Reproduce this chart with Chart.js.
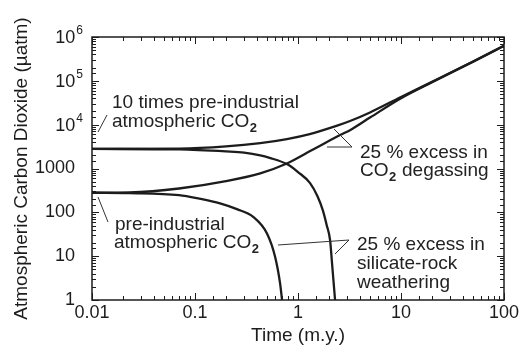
<!DOCTYPE html>
<html>
<head>
<meta charset="utf-8">
<script src="https://cdn.jsdelivr.net/npm/chart.js@4.4.1/dist/chart.umd.min.js"></script>
<style>
  html, body { margin: 0; padding: 0; background: #fff; }
  #wrap { width: 521px; height: 346px; }
</style>
</head>
<body>
<div id="wrap"><canvas id="co2Chart" width="521" height="346"></canvas></div>
<script>
// time in m.y., CO2 in uatm
var tenTimesDegassingTime = [0.01, 0.07, 0.2, 0.43, 0.78, 1.3, 2.4, 3.2, 5, 10, 20, 50, 100];
var tenTimesDegassingCO2 = [2800, 2850, 3200, 3800, 4700, 6100, 9500, 12100, 19000, 42700, 94600, 274000, 630000];

var preIndDegassingTime = [0.01, 0.023, 0.07, 0.2, 0.43, 0.78, 1.37, 2.56, 3.2, 5, 10, 20, 50, 100];
var preIndDegassingCO2 = [280, 285, 350, 515, 775, 1300, 2630, 5800, 7500, 14500, 40000, 93000, 272000, 630000];

var tenTimesWeatheringTime = [0.01, 0.07, 0.2, 0.3, 0.43, 0.53, 0.78, 1.0, 1.31, 1.55, 1.74, 1.9, 2.05, 2.14, 2.29];
var tenTimesWeatheringCO2 = [2800, 2720, 2450, 2300, 2000, 1750, 1260, 830, 465, 230, 112, 51, 23, 6.9, 1];

var preIndWeatheringTime = [0.01, 0.023, 0.07, 0.11, 0.175, 0.255, 0.37, 0.5, 0.6, 0.67, 0.7];
var preIndWeatheringCO2 = [280, 275, 247, 205, 160, 118, 78, 33, 9.6, 2.4, 1];

var xTickValues = [0.01, 0.1, 1, 10, 100];
var xTickLabels = ['0.01', '0.1', '1', '10', '100'];
var yTickValues = [1, 10, 100, 1000, 1e4, 1e5, 1e6];
var yTickLabels = ['1', '10', '100', '1000', '10^4', '10^5', '10^6'];

var FONT = '"Liberation Sans", Arial, Helvetica, sans-serif';
var INK = '#1c1c1c';

function tickIndex(values, v) {
    for (var i = 0; i < values.length; i++) {
        if (Math.abs(Math.log10(values[i]) - Math.log10(v)) < 1e-6) return i;
    }
    return -1;
}

function isDecade(v) {
    var l = Math.log10(v);
    return Math.abs(l - Math.round(l)) < 1e-6;
}

function series(label, times, values) {
    return {
        label: label,
        data: times.map(function (t, i) { return { x: t, y: values[i] }; }),
        borderColor: INK,
        borderWidth: 2.3,
        pointRadius: 0,
        cubicInterpolationMode: 'monotone',
        fill: false
    };
}

// text with "_2" drawn as a subscript 2
function drawText(ctx, x, y, text) {
    var parts = text.split('_2');
    ctx.textAlign = 'left';
    ctx.textBaseline = 'alphabetic';
    parts.forEach(function (part, i) {
        ctx.font = '19px ' + FONT;
        ctx.fillText(part, x, y);
        x += ctx.measureText(part).width;
        if (i < parts.length - 1) {
            ctx.font = 'bold 13px ' + FONT;
            ctx.fillText('2', x + 0.5, y + 5);
            x += ctx.measureText('2').width + 1;
        }
    });
}

var notes = [
    { x: 112, y: 108, text: '10 times pre-industrial' },
    { x: 112, y: 127, text: 'atmospheric CO_2' },
    { x: 115, y: 230, text: 'pre-industrial' },
    { x: 114, y: 248, text: 'atmospheric CO_2' },
    { x: 360, y: 158, text: '25 % excess in' },
    { x: 360, y: 176, text: 'CO_2 degassing' },
    { x: 357, y: 250, text: '25 % excess in' },
    { x: 357, y: 269, text: 'silicate-rock' },
    { x: 357, y: 288, text: 'weathering' }
];

var leaders = [
    [[98, 132], [107, 115]],
    [[98, 197], [108, 222]],
    [[327, 147], [352, 147], [334, 129]],
    [[278, 245], [349, 240], [335, 254]]
];

var framePlugin = {
    id: 'frame',
    afterDraw: function (chart) {
        var ctx = chart.ctx;
        var area = chart.chartArea;
        var xs = chart.scales.x;
        var ys = chart.scales.y;
        ctx.save();
        ctx.strokeStyle = INK;
        ctx.lineWidth = 1.5;
        ctx.strokeRect(area.left, area.top, area.right - area.left, area.bottom - area.top);

        ctx.lineWidth = 1;
        ctx.beginPath();
        xs.ticks.forEach(function (t) {
            var px = Math.round(xs.getPixelForValue(t.value)) + 0.5;
            var len = isDecade(t.value) ? 7 : 4;
            ctx.moveTo(px, area.bottom); ctx.lineTo(px, area.bottom - len);
            ctx.moveTo(px, area.top); ctx.lineTo(px, area.top + len);
        });
        ys.ticks.forEach(function (t) {
            var py = Math.round(ys.getPixelForValue(t.value)) + 0.5;
            var len = isDecade(t.value) ? 7 : 4;
            ctx.moveTo(area.left, py); ctx.lineTo(area.left + len, py);
            ctx.moveTo(area.right, py); ctx.lineTo(area.right - len, py);
        });
        ctx.stroke();

        // powers of ten on the y axis
        ctx.fillStyle = INK;
        ctx.textAlign = 'right';
        ctx.textBaseline = 'alphabetic';
        yTickValues.forEach(function (v, i) {
            var label = yTickLabels[i];
            if (label.indexOf('^') < 0) return;
            var bits = label.split('^');
            var py = ys.getPixelForValue(v);
            var right = area.left - 9;
            ctx.font = '12px ' + FONT;
            var expW = ctx.measureText(bits[1]).width;
            ctx.fillText(bits[1], right, py - 3);
            ctx.font = '18px ' + FONT;
            ctx.fillText(bits[0], right - expW - 1, py + 6);
        });

        ctx.strokeStyle = '#333';
        ctx.lineWidth = 1;
        leaders.forEach(function (pts) {
            ctx.beginPath();
            pts.forEach(function (p, i) {
                if (i === 0) ctx.moveTo(p[0], p[1]); else ctx.lineTo(p[0], p[1]);
            });
            ctx.stroke();
        });

        ctx.fillStyle = '#222';
        notes.forEach(function (n) { drawText(ctx, n.x, n.y, n.text); });
        ctx.restore();
    }
};

new Chart(document.getElementById('co2Chart').getContext('2d'), {
    type: 'line',
    data: {
        datasets: [
            series('10x degassing', tenTimesDegassingTime, tenTimesDegassingCO2),
            series('pre-industrial degassing', preIndDegassingTime, preIndDegassingCO2),
            series('10x weathering', tenTimesWeatheringTime, tenTimesWeatheringCO2),
            series('pre-industrial weathering', preIndWeatheringTime, preIndWeatheringCO2)
        ]
    },
    options: {
        responsive: false,
        animation: false,
        devicePixelRatio: 1,
        layout: { padding: { top: 37, right: 17, left: 0, bottom: 0 } },
        plugins: {
            legend: { display: false },
            tooltip: { enabled: false }
        },
        scales: {
            x: {
                type: 'logarithmic',
                position: 'bottom',
                min: 0.01,
                max: 100,
                grid: { display: false },
                border: { display: false },
                ticks: {
                    autoSkip: false,
                    maxRotation: 0,
                    minRotation: 0,
                    padding: -4,
                    color: INK,
                    font: { family: FONT, size: 18, lineHeight: 1 },
                    callback: function (value) {
                        var i = tickIndex(xTickValues, value);
                        return i < 0 ? '' : xTickLabels[i];
                    }
                },
                title: {
                    display: true,
                    text: 'Time (m.y.)',
                    color: INK,
                    font: { family: FONT, size: 19, lineHeight: 1 },
                    padding: { top: 0, bottom: 1 }
                },
                afterFit: function (scale) { scale.height = 46; }
            },
            y: {
                type: 'logarithmic',
                min: 1,
                max: 1e6,
                grid: { display: false },
                border: { display: false },
                ticks: {
                    autoSkip: false,
                    padding: 9,
                    color: INK,
                    font: { family: FONT, size: 18, lineHeight: 1 },
                    callback: function (value) {
                        var i = tickIndex(yTickValues, value);
                        if (i < 0 || yTickLabels[i].indexOf('^') >= 0) return '';
                        return yTickLabels[i];
                    }
                },
                title: {
                    display: true,
                    text: 'Atmospheric Carbon Dioxide (µatm)',
                    color: INK,
                    font: { family: FONT, size: 19, lineHeight: 1 },
                    padding: { top: 12, bottom: 0 }
                },
                afterFit: function (scale) { scale.width = 92; }
            }
        }
    },
    plugins: [framePlugin]
});
</script>
</body>
</html>
